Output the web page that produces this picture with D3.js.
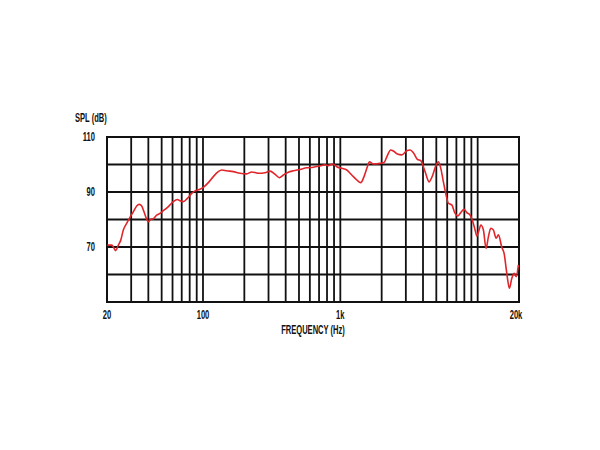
<!DOCTYPE html>
<html><head><meta charset="utf-8">
<script src="https://cdn.jsdelivr.net/npm/d3@7"></script>
<style>body{margin:0;background:#fff}svg text{font-family:"Liberation Sans",Arial,sans-serif;font-weight:bold;font-size:12px;fill:#111}</style>
</head><body><svg id="c" width="600" height="450"></svg>
<script>
const freq = [20.1,21.6,22.2,23.1,24.2,25.2,26.3,27.8,29.4,31.1,32.9,34.4,35.8,37.2,38.9,40.0,41.6,43.5,46.0,48.6,51.4,54.4,57.5,60.8,65.0,68.0,71.9,76.9,82.8,87.5,95.1,101.7,109.4,118.9,129.3,136.9,148.9,166.3,186.1,208.2,226.4,246.2,253,283,308,335,360,385,418,455,509,570,636,712,774,818,881,942,1024,1114,1211,1317,1408,1488,1573,1626,1739,1946,2082,2179,2330,2434,2603,2802,3047,3220,3404,3640,3853,4142,4429,4713,4981,5177,5390,5630,5891,6121,6481,6850,7168,7537,7965,8335,8808,9217,9580,9856,10243,10540,11010,11520,11970,12460,13020,13620,14160,14990,15580,16300,17030,17730,18430,19060,19800];
const spl = [70.7,70.7,70.1,68.7,70.7,72.5,76.2,78.6,80.8,82.8,84.9,85.5,84.9,82.8,80.1,79.2,80.1,80.3,81.6,82.2,83.2,84.1,85.3,86.5,87.3,86.8,86.5,87.7,89.5,90.4,91.0,91.9,93.4,95.6,97.4,98.0,97.7,97.4,96.8,96.6,97.3,96.9,96.8,97.0,97.6,96.4,95.2,96.2,97.2,97.7,98.2,98.8,99.0,99.5,99.9,99.6,100.2,99.2,98.6,98.0,96.2,94.4,93.4,95.6,99.2,101.0,100.2,100.4,100.7,102.8,105.3,104.9,103.8,103.5,105.0,105.3,104.3,101.9,101.4,97.4,93.7,96.2,99.8,101.0,98.6,93.7,88.9,85.9,85.3,82.2,81.3,82.5,83.7,82.5,81.6,79.2,76.2,74.0,76.2,78.0,76.2,69.5,73.7,76.8,76.2,73.2,74.4,69.9,67.7,60.4,55.0,58.6,60.4,59.2,63.5];
const yTicks = [110, 90, 70];
const yGrid = [110,100,90,80,70,60,50];
const xGrid = [30,40,50,60,70,80,90,100,200,300,400,500,600,700,800,900,1000,2000,3000,4000,5000,6000,7000,8000,9000,10000];
const xTicks = [[20,"20"],[100,"100"],[1000,"1k"],[20000,"20k"]];

const svg = d3.select("#c");
const x = d3.scaleLog().domain([20,20000]).range([107,519]);
const y = d3.scaleLinear().domain([50,110]).range([302,137]);

const g = svg.append("g");
g.selectAll(".vg").data(xGrid).join("line")
  .attr("x1",d=>x(d)).attr("x2",d=>x(d)).attr("y1",y(110)).attr("y2",y(50))
  .attr("stroke","#111").attr("stroke-width",1.8);
g.selectAll(".hg").data(yGrid).join("line")
  .attr("x1",x(20)).attr("x2",x(20000)).attr("y1",d=>y(d)).attr("y2",d=>y(d))
  .attr("stroke","#111").attr("stroke-width",1.8);
g.append("rect").attr("x",x(20)).attr("y",y(110)).attr("width",x(20000)-x(20)).attr("height",y(50)-y(110))
  .attr("fill","none").attr("stroke","#111").attr("stroke-width",2);

const line = d3.line().x((d,i)=>x(freq[i])).y(d=>y(d)).curve(d3.curveMonotoneX);
svg.append("path").datum(spl).attr("d",line).attr("fill","none")
  .attr("stroke","#e0262b").attr("stroke-width",1.6).attr("stroke-linejoin","round");

const texts = svg.append("g");
texts.selectAll(".yt").data(yTicks).join("text")
  .attr("x",95).attr("y",d=>y(d)).attr("dy","0.35em").attr("text-anchor","end").text(d=>d);
texts.append("text").attr("x",75).attr("y",122).text("SPL (dB)");
texts.selectAll(".xt").data(xTicks).join("text")
  .attr("x",(d,i)=>x(d[0]) - (i===3?3:0)).attr("y",319).attr("text-anchor","middle").text(d=>d[1]);
texts.append("text").attr("x",313).attr("y",334).attr("text-anchor","middle").text("FREQUENCY (Hz)");
// condense glyphs like a narrow typeface
texts.selectAll("text").each(function(){
  const w = this.getComputedTextLength();
  d3.select(this).attr("textLength", w*0.63).attr("lengthAdjust","spacingAndGlyphs");
});
</script></body></html>
